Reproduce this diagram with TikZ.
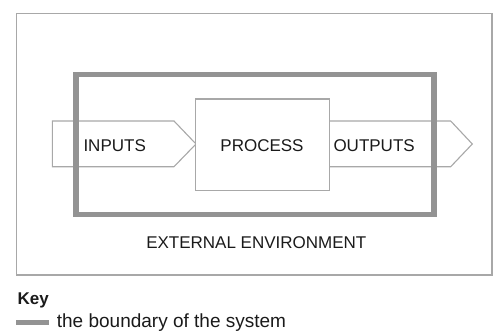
\documentclass[tikz,border=0pt]{standalone}
\usepackage{fontspec}
\setmainfont{Liberation Sans}
\definecolor{txt}{HTML}{1A1A1A}
\definecolor{thin}{HTML}{A8A8A8}
\definecolor{bound}{HTML}{939393}
\begin{document}
\begin{tikzpicture}[x=1pt,y=-1pt,
  lbl/.style={inner sep=0pt,text=txt,font=\fontsize{17}{17}\selectfont},
  thinline/.style={draw=thin,line width=1.1pt},
  boundary/.style={draw=bound,line width=5.5pt}]
\useasboundingbox (0,0) rectangle (494,331);
% external environment
\draw[thinline] (16.7,13.3) rectangle (492,275);
% input arrow
\draw[thinline,fill=white] (52.3,121) -- (174,121) -- (196,144) -- (174,166.7) -- (52.3,166.7) -- cycle;
% output arrow
\draw[thinline,fill=white] (329.3,121) -- (450.7,121) -- (472.3,144) -- (450.7,166.7) -- (329.3,166.7) -- cycle;
% process
\node[thinline,fill=white,minimum width=133.6pt,minimum height=91.3pt,inner sep=0pt] (proc) at (262.5,144.7) {};
% boundary
\draw[boundary] (76.2,74.5) rectangle (434.2,214.5);
% labels
\node[lbl,anchor=base west] (inp) at (83.3,151.7) {INPUTS};
\node[lbl,anchor=base] (pl) at (262,151.7) {PROCESS};
\node[lbl,anchor=base west] (outp) at (333.3,151.7) {OUTPUTS};
\node[lbl,anchor=base] (env) at (256.3,248.3) {EXTERNAL ENVIRONMENT};
% key
\node[lbl,anchor=base west,font=\fontsize{17}{17}\selectfont\bfseries] (key) at (17.5,304) {Key};
\coordinate (ka) at (16,322.3);
\coordinate (kb) at (49.3,322.3);
\draw[boundary,line width=5pt] (ka) -- (kb);
\node[lbl,anchor=base west,font=\fontsize{19}{19}\selectfont] (kt) at (56.7,327.5) {the boundary of the system};
\end{tikzpicture}
\end{document}
